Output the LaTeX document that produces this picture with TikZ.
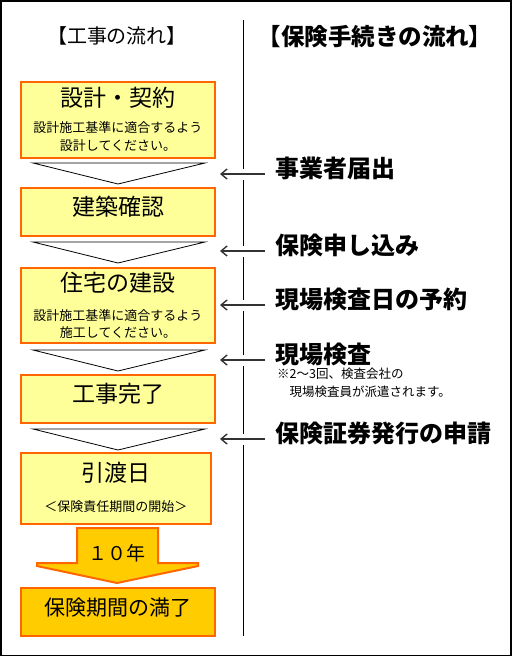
\documentclass[tikz,border=0pt]{standalone}
\usepackage{fontspec}
\setmainfont{Noto Sans CJK JP}
\usetikzlibrary{positioning, arrows.meta, calc}
\definecolor{cFrame}{HTML}{FF6600}
\definecolor{cPale}{HTML}{FFFF99}
\definecolor{cGold}{HTML}{FFCC00}
\definecolor{cArrow}{HTML}{333333}
\tikzset{
  stepbox/.style={
    draw=cFrame, fill=#1, line width=2pt,
    minimum width=194pt, inner sep=0pt
  },
  steptitle/.style={
    font=\fontsize{23}{23}\selectfont, inner sep=0pt,
    text height=0.88em, text depth=0.12em
  },
  stepnote/.style={
    font=\fontsize{13}{18}\selectfont, align=center, inner sep=0pt
  },
  chevron/.style={
    draw=black, line width=0.8pt, fill=white, line join=miter
  },
  procarrow/.style={
    -{Straight Barb[length=6pt, width=10pt]}, line width=1.4pt, color=cArrow,
    preaction={draw=white, line width=11pt, -}
  },
  proclabel/.style={
    font=\fontsize{24}{24}\selectfont\bfseries, anchor=west, inner sep=0pt,
    text height=0.88em, text depth=0.12em
  },
  headline/.style={
    font=\fontsize{20}{20}\selectfont, inner sep=0pt
  },
}

\begin{document}
\begin{tikzpicture}[x=1pt, y=-1pt]
\useasboundingbox (0,0) rectangle (512,657);

% ---- Frame and headings ----
\draw[line width=1.5pt] (1,1) rectangle (510.8,655.5);
\node[headline] (kojihead) at (117,36) {【工事の流れ】};
\node[headline, font=\fontsize{23.5}{23.5}\selectfont\bfseries] (hokenhead)
  at (375,37) {【保険手続きの流れ】};

% ---- Construction steps ----
\node[stepbox=cPale, minimum height=76pt] (sekkei) at (118,119.5) {};
\node[steptitle] (sekkeit) at (118,103) {設計・契約};
\node[stepnote] (sekkein) at (118,137)
  {設計施工基準に適合するよう\\設計してください。};

\node[stepbox=cPale, minimum height=48pt] (kakunin) at (118,212) {};
\node[steptitle] (kakunint) at (118,212) {建築確認};

\node[stepbox=cPale, minimum height=75pt] (kensetsu) at (118,305.5) {};
\node[steptitle] (kensetsut) at (118,288) {住宅の建設};
\node[stepnote, font=\fontsize{13}{17}\selectfont] (kensetsun) at (118,324.5)
  {設計施工基準に適合するよう\\施工してください。};

\node[stepbox=cPale, minimum height=48pt] (kanryo) at (118,399) {};
\node[steptitle] (kanryot) at (118,399) {工事完了};

\node[stepbox=cPale, minimum height=71pt, minimum width=190pt] (hikiwatashi)
  at (116,488.5) {};
\node[steptitle] (hikiwatashit) at (116,478) {引渡日};
\node[stepnote] (hikiwatashin) at (116,507) {＜保険責任期間の開始＞};

\node[stepbox=cGold, minimum height=48pt] (manryo) at (118,612) {};
\node[steptitle, font=\fontsize{21}{21}\selectfont] (manryot) at (118,612)
  {保険期間の満了};

% ---- Chevrons between steps ----
\draw[chevron] ($(sekkei.south)+(-85,4.5)$) -- ($(sekkei.south)+(87,4.5)$)
  -- ($(sekkei.south)+(0,25.5)$) -- cycle;
\draw[chevron] ($(kakunin.south)+(-85,5)$) -- ($(kakunin.south)+(87,5)$)
  -- ($(kakunin.south)+(0,26)$) -- cycle;
\draw[chevron] ($(kensetsu.south)+(-85,6)$) -- ($(kensetsu.south)+(87,6)$)
  -- ($(kensetsu.south)+(0,27)$) -- cycle;
\draw[chevron] ($(kanryo.south)+(-85,5)$) -- ($(kanryo.south)+(87,5)$)
  -- ($(kanryo.south)+(0,26)$) -- cycle;

% ---- 10 year arrow ----
\draw[draw=cFrame, fill=cGold, line width=2pt, line join=miter]
  (77,528) -- (158,528) -- (158,563) -- (198,563) -- (198,566)
  -- (117,583) -- (37,566) -- (37,563) -- (77,563) -- cycle;
\node[font=\fontsize{19}{19}\selectfont, inner sep=0pt] (juunen) at (117,553)
  {１０年};

% ---- Insurance procedure ----
\coordinate (divtop) at (243,20);
\coordinate (divbot) at (243,636);
\coordinate (tips) at (220,0);
\draw[line width=0.9pt] (divtop) -- (divbot);

\node[proclabel] (todokede) at (275,174) {事業者届出};
\node[proclabel] (moushikomi) at (275,251) {保険申し込み};
\node[proclabel] (yoyaku) at (275,305) {現場検査日の予約};
\node[proclabel] (kensa) at (275,360) {現場検査};
\node[stepnote, font=\fontsize{12.5}{18}\selectfont, align=left,
      below right=3pt and 2pt of kensa.south west] (kensan)
  {※2～3回、検査会社の\\　現場検査員が派遣されます。};
\node[proclabel] (shinsei) at (275,439) {保険証券発行の申請};

% ---- Arrows ----
\draw[procarrow] ([xshift=-10pt]todokede.west) -- (todokede.west -| tips);
\draw[procarrow] ([xshift=-10pt]moushikomi.west) -- (moushikomi.west -| tips);
\draw[procarrow] ([xshift=-10pt]yoyaku.west) -- (yoyaku.west -| tips);
\draw[procarrow] ([xshift=-10pt]kensa.west) -- (kensa.west -| tips);
\draw[procarrow] ([xshift=-10pt]shinsei.west) -- (shinsei.west -| tips);

\end{tikzpicture}
\end{document}
